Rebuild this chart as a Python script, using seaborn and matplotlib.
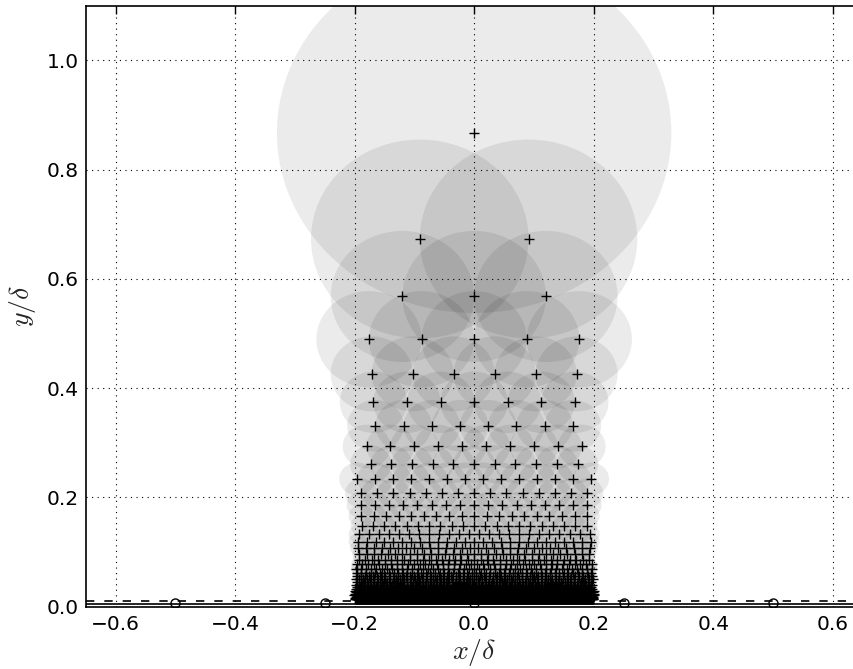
import numpy as np
import pandas as pd
import matplotlib
matplotlib.use("Agg")
import matplotlib.pyplot as plt
from matplotlib.patches import Circle
from matplotlib.collections import PatchCollection
import seaborn as sns

# Sampling rows: height, number of points in the row, point spacing / filter radius
row_y = [0.8675, 0.673, 0.5677, 0.4895, 0.426, 0.374, 0.331, 0.293, 0.2605,
         0.2336, 0.2074, 0.186, 0.1658, 0.148, 0.1328, 0.119, 0.107, 0.096,
         0.086, 0.077, 0.069, 0.062, 0.056, 0.050, 0.045, 0.040, 0.036, 0.032,
         0.029, 0.026, 0.023, 0.021, 0.019, 0.0172, 0.0156, 0.0142, 0.013]
row_n = [1, 2, 3, 5, 6, 7, 8, 10, 11, 14, 15, 17, 19, 21, 24, 27, 30, 33,
         37, 42, 47, 52, 58, 65, 72, 80, 90, 100, 112, 125, 139, 155, 172,
         190, 210, 230, 250]
row_radius = [0.33, 0.182, 0.12, 0.088, 0.0686, 0.0562, 0.0472, 0.040, 0.0346,
              0.0301, 0.027, 0.0237, 0.021, 0.0188, 0.0168, 0.0150, 0.0134,
              0.0120, 0.0107, 0.0096, 0.0086, 0.0077, 0.0069, 0.0062, 0.0055,
              0.0050, 0.0044, 0.0040, 0.0036, 0.0032, 0.0029, 0.0026, 0.0023,
              0.0021, 0.0019, 0.00173, 0.0016]

# Wall probes and reference heights
probe_x = [-0.5, -0.25, 0.0, 0.25, 0.5]
probe_y = 0.006
wall_y = 0.004
layer_y = 0.011

xticks = [-0.6, -0.4, -0.2, 0.0, 0.2, 0.4, 0.6]
yticks = [0.0, 0.2, 0.4, 0.6, 0.8, 1.0]

sns.set_style("white")
plt.rcParams.update({
    "font.family": ["DejaVu Sans"],
    "mathtext.fontset": "cm",
    "axes.edgecolor": "black",
    "axes.linewidth": 1.2,
})

xs, ys, rs = [], [], []
for y, n, r in zip(row_y, row_n, row_radius):
    if n == 1:
        offs = np.array([0.0])
    else:
        offs = (np.arange(n) - (n - 1) / 2.0) * r
    xs.extend(offs)
    ys.extend([y] * n)
    rs.extend([r] * n)
pts = pd.DataFrame({"x": xs, "y": ys, "r": rs})

fig = plt.figure(figsize=(8.54, 6.69), dpi=100)
ax = fig.add_axes([0.1003, 0.0934, 0.9098, 0.898])

circles = PatchCollection(
    [Circle((x, y), r) for x, y, r in zip(pts["x"], pts["y"], pts["r"])],
    facecolor="k", edgecolor="none", alpha=0.08, zorder=1)
ax.add_collection(circles)

sns.scatterplot(data=pts, x="x", y="y", marker="+", color="k", s=60,
                linewidth=1.0, ax=ax, zorder=3, legend=False)

ax.axhline(wall_y, color="k", lw=1.2, zorder=4)
ax.axhline(layer_y, color="k", lw=1.2, ls=(0, (5, 6)), zorder=4)
ax.plot(probe_x, [probe_y] * len(probe_x), "o", mfc="none", mec="k",
        ms=6.5, mew=1.0, zorder=4)

ax.set_xlim(-0.65, 0.65)
ax.set_ylim(0.0, 1.1)
ax.set_xticks(xticks)
ax.set_yticks(yticks)
ax.set_xticklabels([f"{t:.1f}".replace("-", "\u2212") for t in xticks])
ax.set_yticklabels([f"{t:.1f}" for t in yticks])

ax.set_axisbelow(False)
ax.grid(True, color="k", ls=(0, (1, 4)), lw=0.8)
ax.tick_params(direction="in", length=6, width=1, top=True, right=True,
               labelsize=14.5, colors="k")
ax.tick_params(axis="x", pad=6)
ax.tick_params(axis="y", pad=5)

ax.set_xlabel(r"$x/\delta$", fontsize=20, labelpad=2)
ax.set_ylabel(r"$y/\delta$", fontsize=20, labelpad=6)

for sp in ax.spines.values():
    sp.set_color("k")
    sp.set_linewidth(1.2)

fig.savefig("out.png", dpi=100)
